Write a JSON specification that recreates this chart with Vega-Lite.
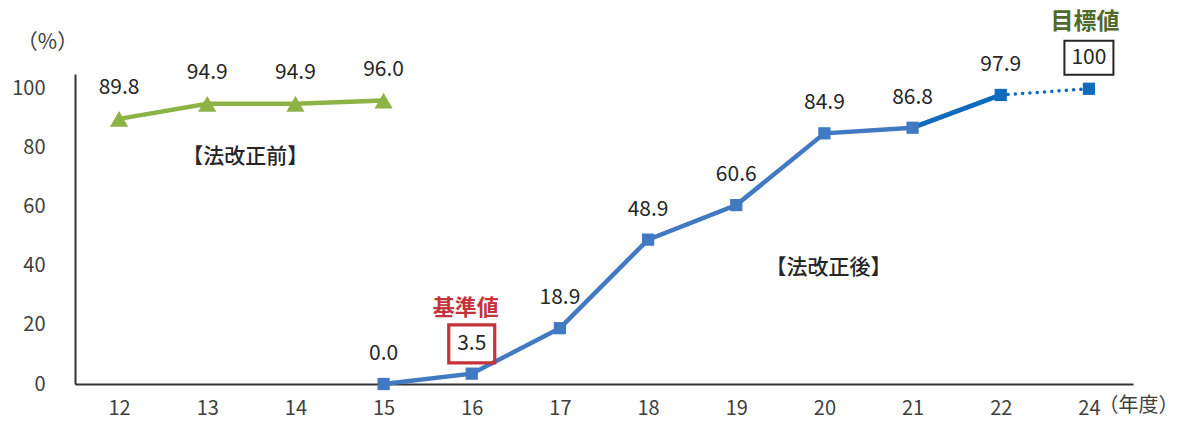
{
  "$schema": "https://vega.github.io/schema/vega-lite/v6.json",
  "width": 1058,
  "height": 310,
  "autosize": {"type": "none"},
  "padding": {"left": 75, "top": 74, "right": 48, "bottom": 37},
  "background": "white",
  "config": {
    "view": {"stroke": null},
    "font": "Noto Sans CJK JP",
    "text": {"font": "Noto Sans CJK JP"}
  },
  "datasets": {
    "before": [
      {"year": "12", "value": 89.8},
      {"year": "13", "value": 94.9},
      {"year": "14", "value": 94.9},
      {"year": "15", "value": 96.0}
    ],
    "after": [
      {"year": "15", "value": 0.0},
      {"year": "16", "value": 3.5},
      {"year": "17", "value": 18.9},
      {"year": "18", "value": 48.9},
      {"year": "19", "value": 60.6},
      {"year": "20", "value": 84.9},
      {"year": "21", "value": 86.8},
      {"year": "22", "value": 97.9}
    ],
    "recent": [
      {"year": "21", "value": 86.8},
      {"year": "22", "value": 97.9}
    ],
    "target": [
      {"year": "22", "value": 97.9},
      {"year": "24", "value": 100}
    ],
    "boxed": [
      {"year": "16", "value": 13.6, "label": "3.5", "kind": "base"},
      {"year": "24", "value": 110.5, "label": "100", "kind": "goal"}
    ],
    "notes": [
      {"year": "13", "value": 77, "text": "【法改正前】", "kind": "before"},
      {"year": "20", "value": 39.3, "text": "【法改正後】", "kind": "after"},
      {"year": "16", "value": 25.8, "text": "基準値", "kind": "base"},
      {"year": "24", "value": 122.7, "text": "目標値", "kind": "goal"}
    ]
  },
  "encoding": {
    "x": {
      "field": "year",
      "type": "ordinal",
      "sort": ["12","13","14","15","16","17","18","19","20","21","22","24"],
      "scale": {"domain": ["12","13","14","15","16","17","18","19","20","21","22","24"], "type": "point", "padding": 0.5},
      "axis": {
        "title": "（年度）",
        "titleX": 1063,
        "titleY": 21,
        "titleAnchor": null,
        "titleAlign": "center",
        "titleBaseline": "middle",
        "titleFontSize": 20,
        "titleFontWeight": "normal",
        "titleColor": "#404040",
        "labelAngle": 0,
        "labelFontSize": 20,
        "labelColor": "#404040",
        "labelPadding": 14,
        "ticks": false,
        "domainColor": "#333333",
        "domainWidth": 2,
        "grid": false
      }
    },
    "y": {
      "field": "value",
      "type": "quantitative",
      "scale": {"domain": [0, 105], "nice": false},
      "axis": {
        "title": "（%）",
        "titleAngle": 0,
        "titleX": -28,
        "titleY": -32,
        "titleAlign": "center",
        "titleBaseline": "middle",
        "titleFontSize": 21,
        "titleFontWeight": "normal",
        "titleColor": "#404040",
        "values": [0, 20, 40, 60, 80, 100],
        "labelFontSize": 20,
        "labelColor": "#404040",
        "labelPadding": 30,
        "ticks": false,
        "domainColor": "#333333",
        "domainWidth": 2,
        "grid": false
      }
    }
  },
  "layer": [
    {
      "data": {"name": "before"},
      "mark": {"type": "line", "color": "#8DB346", "strokeWidth": 4.5},
      "encoding": {}
    },
    {
      "data": {"name": "before"},
      "mark": {"type": "point", "shape": "triangle-up", "filled": true, "opacity": 1, "color": "#8DB346", "size": 330},
      "encoding": {}
    },
    {
      "data": {"name": "before"},
      "mark": {"type": "text", "fontSize": 21, "color": "#262626", "dy": -31},
      "encoding": {"text": {"field": "value", "type": "quantitative", "format": ".1f"}}
    },
    {
      "data": {"name": "after"},
      "mark": {"type": "line", "color": "#4179C2", "strokeWidth": 4.5},
      "encoding": {}
    },
    {
      "data": {"name": "recent"},
      "mark": {"type": "line", "color": "#0F6BBE", "strokeWidth": 4.5},
      "encoding": {}
    },
    {
      "data": {"name": "target"},
      "mark": {"type": "line", "color": "#0F6BBE", "strokeWidth": 3.5, "strokeDash": [0.1, 7.2], "strokeCap": "round"},
      "encoding": {}
    },
    {
      "data": {"name": "after"},
      "transform": [{"filter": "datum.year != '22'"}],
      "mark": {"type": "point", "shape": "square", "filled": true, "opacity": 1, "color": "#4179C2", "size": 150},
      "encoding": {}
    },
    {
      "data": {"name": "target"},
      "mark": {"type": "point", "shape": "square", "filled": true, "opacity": 1, "color": "#0F6BBE", "size": 150},
      "encoding": {}
    },
    {
      "data": {"name": "after"},
      "transform": [{"filter": "datum.year != '16'"}],
      "mark": {"type": "text", "fontSize": 21, "color": "#262626", "dy": -30},
      "encoding": {"text": {"field": "value", "type": "quantitative", "format": ".1f"}}
    },
    {
      "data": {"name": "boxed"},
      "transform": [{"filter": "datum.kind == 'base'"}],
      "mark": {"type": "point", "shape": "M-1,-0.826H1V0.826H-1Z", "filled": false, "opacity": 1, "stroke": "#C4333A", "strokeWidth": 3.2, "size": 2116},
      "encoding": {}
    },
    {
      "data": {"name": "boxed"},
      "transform": [{"filter": "datum.kind == 'goal'"}],
      "mark": {"type": "point", "shape": "M-1,-0.694H1V0.694H-1Z", "filled": false, "opacity": 1, "stroke": "#262626", "strokeWidth": 2, "size": 2401, "clip": false},
      "encoding": {}
    },
    {
      "data": {"name": "boxed"},
      "mark": {"type": "text", "fontSize": 21, "color": "#262626", "baseline": "middle"},
      "encoding": {"text": {"field": "label"}}
    },
    {
      "data": {"name": "notes"},
      "transform": [{"filter": "datum.kind == 'before'"}],
      "mark": {"type": "text", "fontSize": 21, "fontWeight": 500, "color": "#262626", "baseline": "middle", "dx": 38},
      "encoding": {"text": {"field": "text"}}
    },
    {
      "data": {"name": "notes"},
      "transform": [{"filter": "datum.kind == 'after'"}],
      "mark": {"type": "text", "fontSize": 21, "fontWeight": 500, "color": "#262626", "baseline": "middle", "dx": 4},
      "encoding": {"text": {"field": "text"}}
    },
    {
      "data": {"name": "notes"},
      "transform": [{"filter": "datum.kind == 'base'"}],
      "mark": {"type": "text", "fontSize": 22, "fontWeight": "bold", "color": "#C4333A", "baseline": "middle", "dx": -6},
      "encoding": {"text": {"field": "text"}}
    },
    {
      "data": {"name": "notes"},
      "transform": [{"filter": "datum.kind == 'goal'"}],
      "mark": {"type": "text", "fontSize": 23, "fontWeight": "bold", "color": "#4F6A2A", "baseline": "middle", "dx": -4, "clip": false},
      "encoding": {"text": {"field": "text"}}
    }
  ]
}
